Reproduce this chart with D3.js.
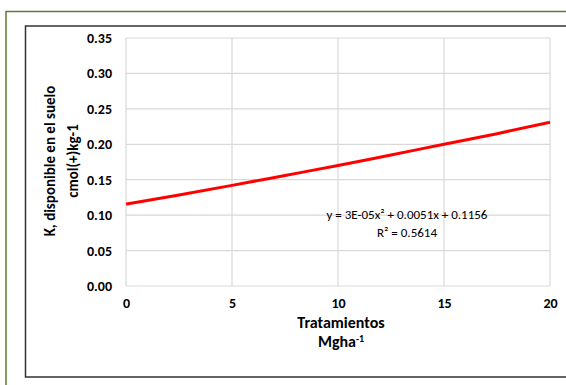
<!DOCTYPE html>
<html>
<head>
<meta charset="utf-8">
<script src="https://cdn.jsdelivr.net/npm/d3@7"></script>
<style>
  body { margin: 0; background: #fff; }
  svg text { font-family: Carlito, Lato, "Open Sans", sans-serif; font-weight: bold; fill: #000; }
</style>
</head>
<body>
<div id="chart"></div>
<script>
// trend line values
var dosis = [0, 2.5, 5, 7.5, 10, 12.5, 15, 17.5, 20];
var potasio = [0.1156, 0.1285, 0.142, 0.156, 0.170, 0.185, 0.200, 0.215, 0.231];
var xTicks = [0, 5, 10, 15, 20];
var yTicks = [0, 0.05, 0.10, 0.15, 0.20, 0.25, 0.30, 0.35];
var ecuacion = "y = 3E-05x² + 0.0051x + 0.1156";
var r2 = "R² = 0.5614";

var W = 566, H = 385;
var margin = {top: 38, right: 16, bottom: 99, left: 126};
var width = W - margin.left - margin.right,
    height = H - margin.top - margin.bottom;

var root = d3.select("#chart").append("svg")
    .attr("width", W)
    .attr("height", H);

// outer frames
root.append("rect").attr("x", 6).attr("y", 11.5).attr("width", 600).attr("height", 420)
    .attr("fill", "none").attr("stroke", "#5a7a35").attr("stroke-width", 1.5);
root.append("rect").attr("x", 25.5).attr("y", 26).attr("width", 600).attr("height", 351)
    .attr("fill", "none").attr("stroke", "#333").attr("stroke-width", 1.5);

var svg = root.append("g")
    .attr("transform", "translate(" + margin.left + "," + margin.top + ")");

var x = d3.scaleLinear().domain([0, 20]).range([0, width]);
var y = d3.scaleLinear().domain([0, 0.35]).range([height, 0]);

// grid
svg.append("g").selectAll("line.h").data(yTicks).enter().append("line")
    .attr("x1", 0).attr("x2", width)
    .attr("y1", function(d) { return y(d); }).attr("y2", function(d) { return y(d); })
    .attr("stroke", "#d9d9d9").attr("stroke-width", 1.2);
svg.append("g").selectAll("line.v").data(xTicks).enter().append("line")
    .attr("y1", 0).attr("y2", height)
    .attr("x1", function(d) { return x(d); }).attr("x2", function(d) { return x(d); })
    .attr("stroke", "#d9d9d9").attr("stroke-width", 1.2);

// axes (labels only)
var yAxis = svg.append("g")
    .call(d3.axisLeft(y).tickValues(yTicks).tickFormat(d3.format(".2f")).tickSize(0).tickPadding(14));
var xAxis = svg.append("g")
    .attr("transform", "translate(0," + height + ")")
    .call(d3.axisBottom(x).tickValues(xTicks).tickSize(0).tickPadding(12));
[yAxis, xAxis].forEach(function(a) {
    a.select(".domain").remove();
    a.selectAll("text").style("font-size", "14px");
});

// trend line
var line = d3.line()
    .x(function(d, i) { return x(dosis[i]); })
    .y(function(d) { return y(d); })
    .curve(d3.curveMonotoneX);
svg.append("path")
    .datum(potasio)
    .attr("d", line)
    .attr("fill", "none")
    .attr("stroke", "#ff0000")
    .attr("stroke-width", 3);

// equation
svg.append("text").attr("x", 281).attr("y", 181).attr("text-anchor", "middle")
    .style("font-size", "13px").style("font-weight", "normal").text(ecuacion);
svg.append("text").attr("x", 281).attr("y", 199).attr("text-anchor", "middle")
    .style("font-size", "13px").style("font-weight", "normal").text(r2);

// axis titles
var yt = root.append("text")
    .attr("transform", "translate(0,161) rotate(-90)")
    .attr("text-anchor", "middle")
    .style("font-size", "15px");
yt.append("tspan").attr("x", 0).attr("y", 55).text("K, disponible en el suelo");
yt.append("tspan").attr("x", 0).attr("y", 78).text("cmol(+)kg-1");

var xt = root.append("text").attr("text-anchor", "middle").style("font-size", "16px");
xt.append("tspan").attr("x", 341).attr("y", 328).text("Tratamientos");
var mg = root.append("text").attr("text-anchor", "middle").style("font-size", "16px")
    .attr("x", 341).attr("y", 347);
mg.append("tspan").text("Mgha");
mg.append("tspan").attr("dy", -5).style("font-size", "10px").text("-1");
</script>
</body>
</html>
